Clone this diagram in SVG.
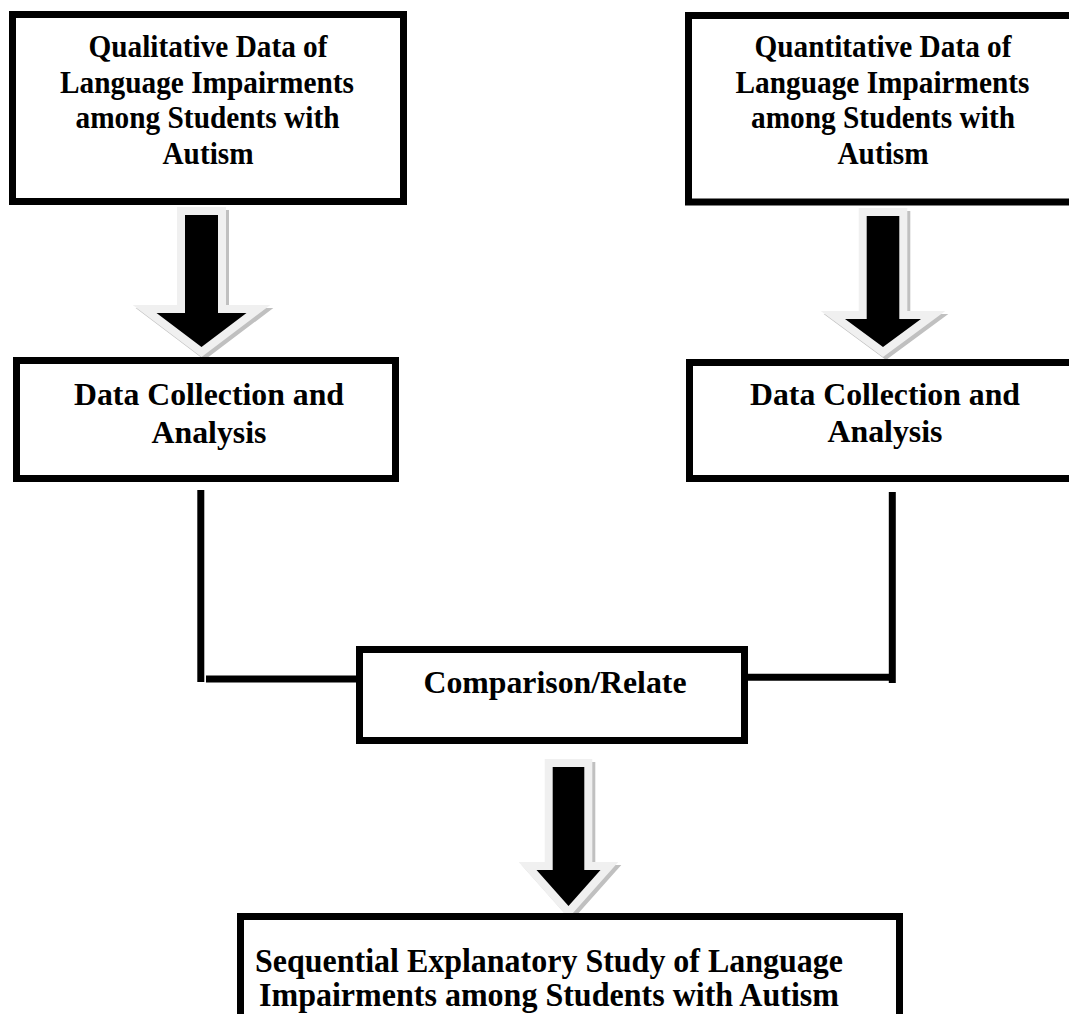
<svg xmlns="http://www.w3.org/2000/svg" width="1069" height="1014" viewBox="0 0 1069 1014">
<style>
.box{fill:#fff;stroke:#000;stroke-width:7}
.t{font-family:"Liberation Serif","Times New Roman",serif;font-weight:bold;fill:#000;text-anchor:middle}
.t1{font-size:31px}
.t2{font-size:31px}
.t3{font-size:33px}
.conn{stroke:#000;stroke-width:7;fill:none}
.ash{fill:#c0c0c0;stroke:#c0c0c0;stroke-width:16;stroke-linejoin:miter}
.aol{fill:#f0f0f0;stroke:#f0f0f0;stroke-width:16;stroke-linejoin:miter}
.ain{fill:#000}
</style>
<defs>
<path id="arrL" d="M185,215 H218 V313 H246.5 L201.5,347 L156.5,313 H185 Z"/>
<path id="arrR" d="M866.7,216 H899.3 V319 H921 L883,347 L845,319 H866.7 Z"/>
<path id="arrB" d="M552.7,767 H584.3 V870 H600.5 L568.5,906 L536.5,870 H552.7 Z"/>
</defs>
<rect width="1069" height="1014" fill="#fff"/>
<g id="arrows">
<use href="#arrL" class="ash" transform="translate(3,3)"/>
<use href="#arrL" class="aol"/>
<use href="#arrL" class="ain"/>
<use href="#arrR" class="ash" transform="translate(3,3)"/>
<use href="#arrR" class="aol"/>
<use href="#arrR" class="ain"/>
<use href="#arrB" class="ash" transform="translate(3,3)"/>
<use href="#arrB" class="aol"/>
<use href="#arrB" class="ain"/>
</g>
<g id="connectors">
<line class="conn" x1="200.8" y1="490" x2="200.8" y2="682"/>
<line class="conn" x1="206" y1="679" x2="358" y2="679"/>
<line class="conn" x1="892.3" y1="492" x2="892.3" y2="683"/>
<line class="conn" x1="746" y1="677.3" x2="889" y2="677.3"/>
</g>
<g id="qualData">
<rect class="box" x="12.5" y="14.5" width="391" height="187"/>
<text class="t t1" x="208" y="57" textLength="239" lengthAdjust="spacingAndGlyphs">Qualitative Data of</text>
<text class="t t1" x="207" y="93" textLength="294" lengthAdjust="spacingAndGlyphs">Language Impairments</text>
<text class="t t1" x="207.5" y="128" textLength="264" lengthAdjust="spacingAndGlyphs">among Students with</text>
<text class="t t1" x="208" y="164" textLength="91" lengthAdjust="spacingAndGlyphs">Autism</text>
</g>
<g id="quantData">
<rect class="box" x="688.5" y="15.5" width="391" height="186.5"/>
<text class="t t1" x="883" y="57" textLength="257" lengthAdjust="spacingAndGlyphs">Quantitative Data of</text>
<text class="t t1" x="882.5" y="93" textLength="294" lengthAdjust="spacingAndGlyphs">Language Impairments</text>
<text class="t t1" x="883" y="128" textLength="264" lengthAdjust="spacingAndGlyphs">among Students with</text>
<text class="t t1" x="883" y="164" textLength="91" lengthAdjust="spacingAndGlyphs">Autism</text>
</g>
<g id="collectLeft">
<rect class="box" x="16.5" y="360.5" width="379" height="118"/>
<text class="t t2" x="209" y="405" textLength="270" lengthAdjust="spacingAndGlyphs">Data Collection and</text>
<text class="t t2" x="209" y="443" textLength="115" lengthAdjust="spacingAndGlyphs">Analysis</text>
</g>
<g id="collectRight">
<rect class="box" x="689.5" y="362.5" width="391" height="116"/>
<text class="t t2" x="885" y="405" textLength="270" lengthAdjust="spacingAndGlyphs">Data Collection and</text>
<text class="t t2" x="885" y="442" textLength="115" lengthAdjust="spacingAndGlyphs">Analysis</text>
</g>
<g id="compare">
<rect class="box" x="359.5" y="649.5" width="385" height="91"/>
<text class="t t2" x="555" y="693" textLength="263" lengthAdjust="spacingAndGlyphs">Comparison/Relate</text>
</g>
<g id="sequential">
<rect class="box" x="240.5" y="916.5" width="659" height="200"/>
<text class="t t3" x="549" y="972" textLength="588" lengthAdjust="spacingAndGlyphs">Sequential Explanatory Study of Language</text>
<text class="t t3" x="549" y="1006" textLength="580" lengthAdjust="spacingAndGlyphs">Impairments among Students with Autism</text>
</g>
</svg>
